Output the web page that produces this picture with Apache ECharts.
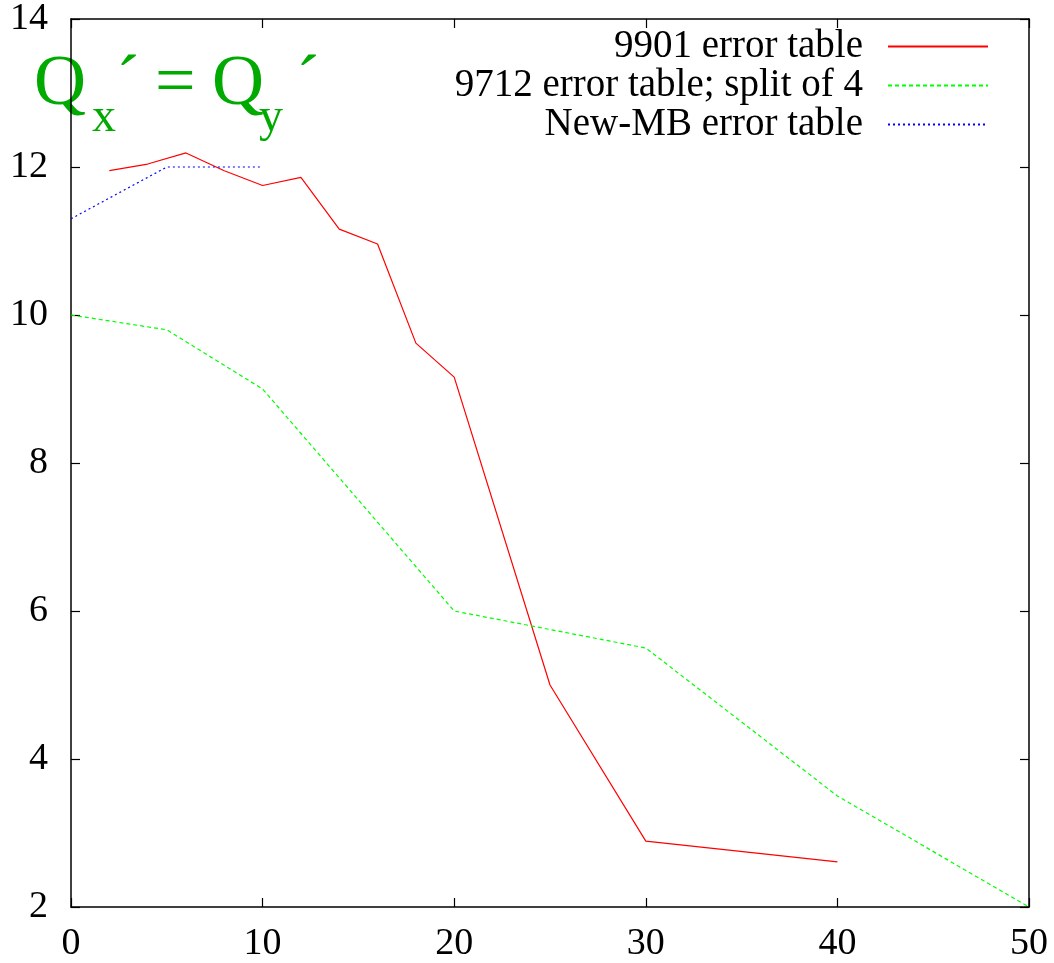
<!DOCTYPE html>
<html>
<head>
<meta charset="utf-8">
<script src="https://cdn.jsdelivr.net/npm/echarts@6/dist/echarts.min.js"></script>
<style>
  html, body { margin: 0; padding: 0; background: #ffffff; }
  #chart { width: 1054px; height: 963px; }
</style>
</head>
<body>
<div id="chart"></div>
<script>
// Tune shift versus bunch current, three error tables
const seriesNames = ['9901 error table', '9712 error table; split of 4', 'New-MB error table'];

const table9901X = [2, 4, 6, 8, 10, 12, 14, 16, 18, 20, 25, 30, 40];
const table9901Y = [11.95, 12.04, 12.19, 11.95, 11.75, 11.86, 11.16, 10.96, 9.62, 9.16, 5.0, 2.89, 2.61];

const table9712X = [0, 5, 10, 20, 30, 40, 50];
const table9712Y = [10.0, 9.8, 9.0, 6.0, 5.5, 3.5, 2.0];

const tableNewMBX = [0, 5, 10];
const tableNewMBY = [11.3, 12.0, 12.0];

const xRange = [0, 50, 10];   // min, max, step
const yRange = [2, 14, 2];

const pairs = (xs, ys) => xs.map((x, i) => [x, ys[i]]);

const FONT = 'Liberation Serif';
const GREEN_TEXT = '#00aa00';

const axisBase = (range) => ({
  type: 'value',
  min: range[0],
  max: range[1],
  interval: range[2],
  splitLine: { show: false },
  axisLine: { show: true, onZero: false, lineStyle: { color: '#000', width: 1.5 } },
  axisTick: { show: true, inside: true, length: 9, lineStyle: { color: '#000', width: 1.2 } }
});

const chart = echarts.init(document.getElementById('chart'), null, { renderer: 'canvas' });

chart.setOption({
  backgroundColor: '#ffffff',
  animation: false,
  grid: { left: 71, right: 25, top: 18, bottom: 56 },
  xAxis: [
    Object.assign(axisBase(xRange), {
      position: 'bottom',
      axisLabel: { color: '#000', fontFamily: FONT, fontSize: 38, margin: 18 }
    }),
    Object.assign(axisBase(xRange), {
      position: 'top',
      axisLabel: { show: false }
    })
  ],
  yAxis: [
    Object.assign(axisBase(yRange), {
      position: 'left',
      axisLabel: { color: '#000', fontFamily: FONT, fontSize: 38, margin: 23 }
    }),
    Object.assign(axisBase(yRange), {
      position: 'right',
      axisLabel: { show: false }
    })
  ],
  legend: {
    orient: 'vertical',
    align: 'right',
    right: 60,
    top: 22,
    itemWidth: 100,
    itemHeight: 14,
    itemGap: 0,
    itemStyle: { opacity: 0 },
    textStyle: { color: '#000', fontFamily: FONT, fontSize: 39, lineHeight: 37, padding: [0, 20, 0, 0] },
    data: seriesNames
  },
  series: [
    {
      name: seriesNames[0],
      type: 'line',
      symbol: 'none',
      data: pairs(table9901X, table9901Y),
      lineStyle: { color: '#ff0000', width: 1.2, type: 'solid' },
      itemStyle: { color: '#ff0000' }
    },
    {
      name: seriesNames[1],
      type: 'line',
      symbol: 'none',
      data: pairs(table9712X, table9712Y),
      lineStyle: { color: '#00ff00', width: 1.2, type: [4, 3] },
      itemStyle: { color: '#00ff00' }
    },
    {
      name: seriesNames[2],
      type: 'line',
      symbol: 'none',
      data: pairs(tableNewMBX, tableNewMBY),
      lineStyle: { color: '#0000ff', width: 1.2, type: [2, 3] },
      itemStyle: { color: '#0000ff' }
    }
  ],
  graphic: [
    // Q_x' = Q_y' label, large green lettering
    { type: 'text', left: 34, top: 49, style: { text: 'Q', fill: GREEN_TEXT, font: '72px "' + FONT + '"' } },
    { type: 'text', left: 92, top: 94, style: { text: 'x', fill: GREEN_TEXT, font: '48px "' + FONT + '"' } },
    { type: 'text', left: 116, top: 49, style: { text: '\u00b4', fill: GREEN_TEXT, font: '72px "' + FONT + '"' } },
    { type: 'text', left: 155, top: 49, style: { text: '=', fill: GREEN_TEXT, font: '72px "' + FONT + '"' } },
    { type: 'text', left: 212, top: 49, style: { text: 'Q', fill: GREEN_TEXT, font: '72px "' + FONT + '"' } },
    { type: 'text', left: 259, top: 94, style: { text: 'y', fill: GREEN_TEXT, font: '48px "' + FONT + '"' } },
    { type: 'text', left: 296, top: 49, style: { text: '\u00b4', fill: GREEN_TEXT, font: '72px "' + FONT + '"' } }
  ]
});
</script>
</body>
</html>
